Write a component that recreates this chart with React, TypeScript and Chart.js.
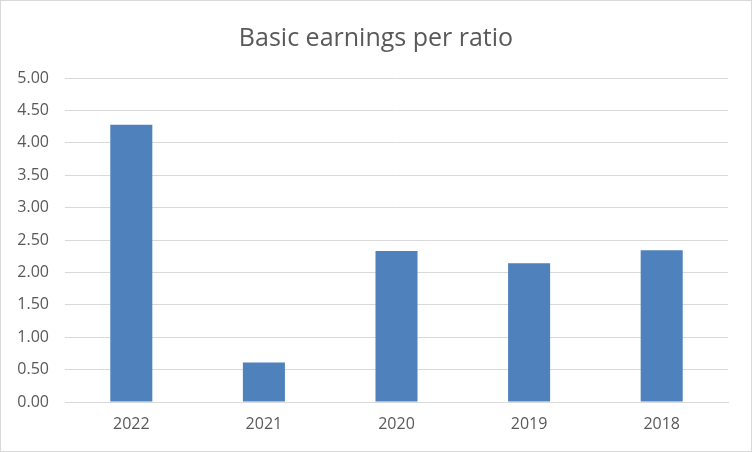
import React, { useEffect, useRef } from "react";
import { Chart, registerables } from "chart.js";

Chart.register(...registerables);

const categories = ["2022", "2021", "2020", "2019", "2018"];
const values = [4.28, 0.61, 2.33, 2.14, 2.34];
const titleText = "Basic earnings per ratio";
const yMin = 0;
const yMax = 5;
const yStep = 0.5;

const TEXT = "#595959";
const GRID = "#d9d9d9";
const BAR = "#4f81bd";
const FONT = "'Open Sans', 'DejaVu Sans', sans-serif";

const centeredTitle = {
  id: "centeredTitle",
  afterDraw(chart: any) {
    const c = chart.ctx;
    c.save();
    c.fillStyle = TEXT;
    c.font = `normal 25px ${FONT}`;
    c.textAlign = "center";
    c.textBaseline = "middle";
    c.fillText(titleText, chart.width / 2, 38);
    c.restore();
  },
};

export default function App() {
  const ref = useRef<HTMLCanvasElement | null>(null);

  useEffect(() => {
    document.body.style.margin = "0";
    const ctx = ref.current!.getContext("2d")!;
    const chart = new Chart(ctx, {
      type: "bar",
      data: {
        labels: categories,
        datasets: [
          {
            data: values,
            backgroundColor: BAR,
            borderWidth: 0,
            barPercentage: 0.317,
            categoryPercentage: 1,
          },
        ],
      },
      options: {
        animation: false,
        responsive: false,
        maintainAspectRatio: false,
        devicePixelRatio: 1,
        layout: { padding: { left: 0, right: 23, top: 77, bottom: 0 } },
        plugins: {
          legend: { display: false },
          tooltip: { enabled: false },
          title: { display: false },
        },
        scales: {
          x: {
            grid: { display: false, drawTicks: false },
            border: { display: true, color: GRID, width: 1 },
            ticks: {
              color: TEXT,
              font: { family: FONT, size: 16 },
              padding: 13,
            },
            afterFit: (scale: any) => {
              scale.height = 49;
            },
          },
          y: {
            min: yMin,
            max: yMax,
            grid: { color: GRID, drawTicks: false },
            border: { display: false },
            ticks: {
              stepSize: yStep,
              color: TEXT,
              padding: 16,
              font: { family: FONT, size: 16 },
              callback: (v: any) => Number(v).toFixed(2),
            },
            afterFit: (scale: any) => {
              scale.width = 64;
            },
          },
        },
      },
      plugins: [centeredTitle],
    });
    return () => chart.destroy();
  }, []);

  return (
    <div
      style={{
        position: "absolute",
        left: 0,
        top: 0,
        width: 752,
        height: 452,
        boxSizing: "border-box",
        border: "1px solid #d9d9d9",
        background: "#fff",
      }}
    >
      <canvas ref={ref} width={750} height={450} style={{ display: "block" }} />
    </div>
  );
}
